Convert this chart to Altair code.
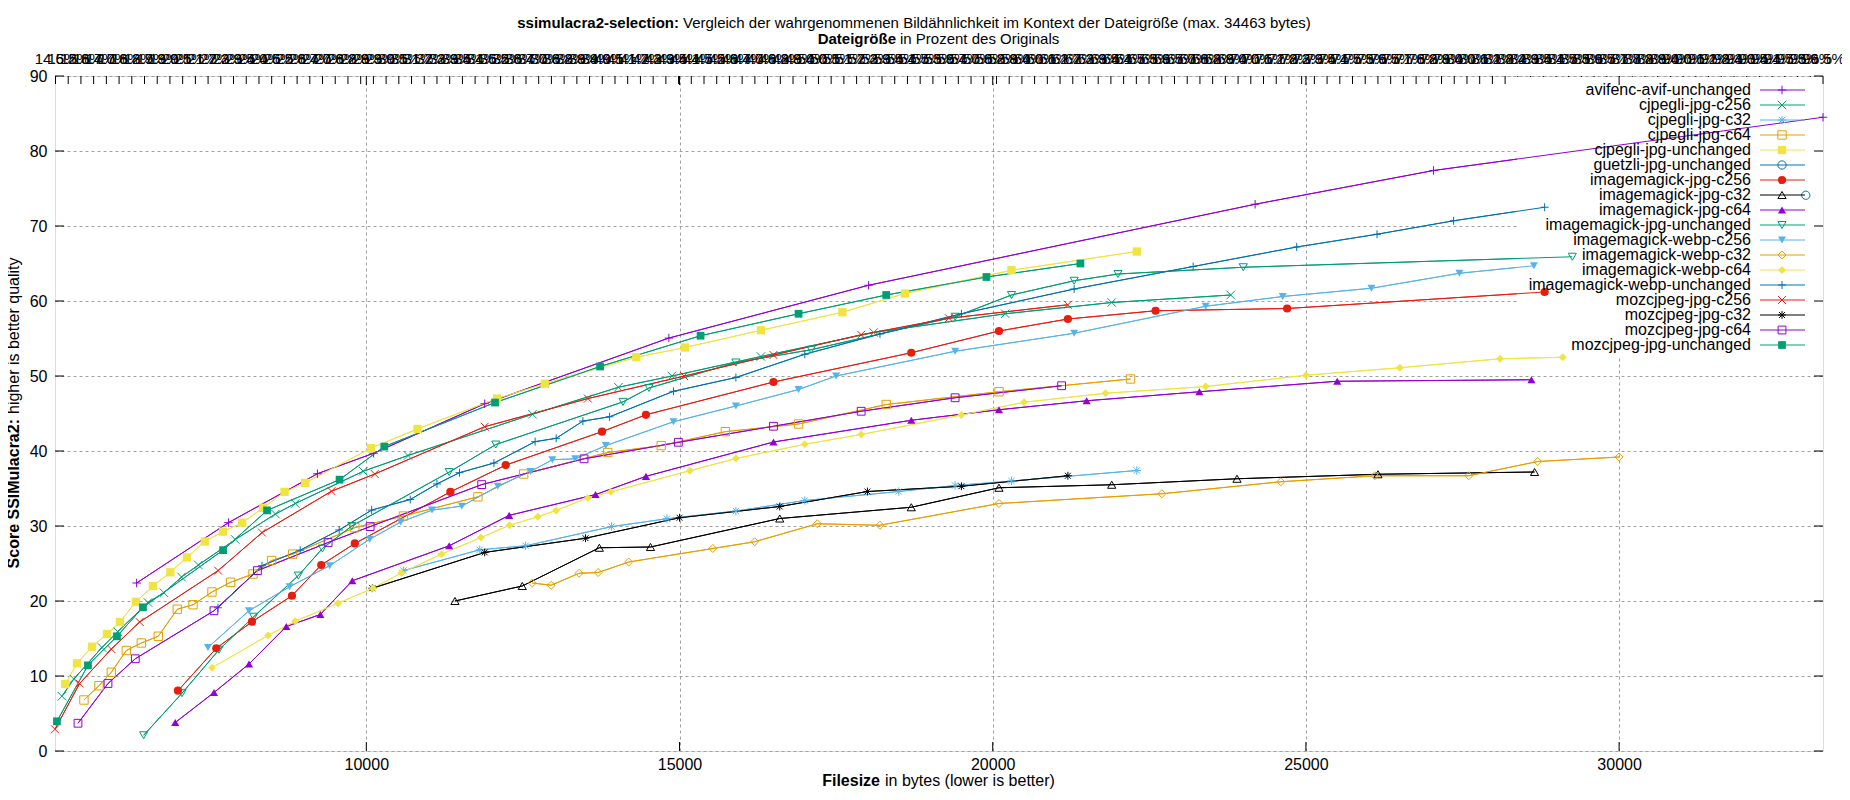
import pandas as pd
import altair as alt

FONT = "Liberation Sans"
W, H = 1768, 675
X_MIN, X_MAX = 5030, 33255
ORIGINAL = 34463

SERIES = [
    "avifenc-avif-unchanged", "cjpegli-jpg-c256", "cjpegli-jpg-c32", "cjpegli-jpg-c64",
    "cjpegli-jpg-unchanged", "guetzli-jpg-unchanged", "imagemagick-jpg-c256",
    "imagemagick-jpg-c32", "imagemagick-jpg-c64", "imagemagick-jpg-unchanged",
    "imagemagick-webp-c256", "imagemagick-webp-c32", "imagemagick-webp-c64",
    "imagemagick-webp-unchanged", "mozcjpeg-jpg-c256", "mozcjpeg-jpg-c32",
    "mozcjpeg-jpg-c64", "mozcjpeg-jpg-unchanged",
]
COLORS = [
    "#9400d3", "#009e73", "#56b4e9", "#e69f00", "#f0e442", "#0072b2", "#e51e10", "#000000",
    "#9400d3", "#009e73", "#56b4e9", "#e69f00", "#f0e442", "#0072b2", "#e51e10", "#000000",
    "#9400d3", "#009e73",
]
PLUS = "M-1,0L1,0M0,-1L0,1"
CROSS = "M-1,-1L1,1M-1,1L1,-1"
STAR = "M-1,0L1,0M0,-1L0,1M-0.75,-0.75L0.75,0.75M-0.75,0.75L0.75,-0.75"
SHAPES = [PLUS, CROSS, STAR, "square", "square", "circle", "circle", "triangle-up",
          "triangle-up", "triangle-down", "triangle-down", "diamond", "diamond", PLUS,
          CROSS, STAR, "square", "square"]
SIZES = [72, 60, 72, 42, 70, 36, 36, 64, 64, 72, 72, 36, 42, 72, 60, 72, 42, 60]
FILLED = ["cjpegli-jpg-unchanged", "imagemagick-jpg-c256", "imagemagick-jpg-c64",
          "imagemagick-webp-c256", "imagemagick-webp-c64", "mozcjpeg-jpg-unchanged"]

# filesize in bytes / score
avif_x = [6333, 7799, 9219, 10116, 11890, 14830, 18019, 24189, 27038, 33255]
avif_y = [22.4, 30.45, 36.97, 39.7, 46.3, 55.06, 62.1, 72.9, 77.4, 84.5]

cj256_x = [5141, 5330, 5780, 6030, 6514, 6769, 7050, 7320, 7908, 8549, 8866, 9951, 10665,
           12653, 14025, 14878, 16300, 18100, 20200, 21900, 23800]
cj256_y = [7.3, 9.6, 13.8, 15.9, 19.8, 21.1, 23.2, 24.8, 28.2, 31.6, 33.0, 37.3, 39.4,
           44.9, 48.5, 50.0, 52.6, 55.8, 58.3, 59.8, 60.8]

cj32_x = [10592, 11811, 12543, 13915, 14799, 15900, 17000, 18500, 19400, 20300, 22300]
cj32_y = [24.05, 26.83, 27.36, 29.92, 30.97, 32.0, 33.4, 34.6, 35.4, 36.0, 37.4]

cj64_x = [5492, 5732, 5929, 6168, 6408, 6679, 6982, 7233, 7536, 7834, 8190, 8488, 8823,
          9817, 10592, 11781, 12512, 13854, 14708, 15732, 16900, 18300, 20100, 22200]
cj64_y = [6.8, 8.7, 10.5, 13.4, 14.4, 15.3, 18.9, 19.5, 21.2, 22.5, 23.6, 25.4, 26.25,
          29.78, 31.33, 33.89, 36.93, 39.8, 40.72, 42.58, 43.6, 46.2, 47.9, 49.6]

cjun_x = [5194, 5381, 5620, 5860, 6067, 6322, 6594, 6872, 7134, 7421, 7713, 8018, 8354,
          8695, 9024, 10073, 10817, 12086, 12848, 14311, 15086, 16300, 17600, 18600,
          20300, 22300]
cjun_y = [8.93, 11.69, 13.9, 15.6, 17.2, 19.9, 22.0, 23.83, 25.81, 27.93, 29.25, 30.44,
          32.43, 34.55, 35.75, 40.38, 42.94, 46.99, 48.97, 52.5, 53.8, 56.1, 58.5, 61.0,
          64.1, 66.6]

guetzli_x = [32980]
guetzli_y = [74.1]

im256_x = [6993, 7605, 8175, 8813, 9280, 9817, 11342, 12226, 13762, 14464, 16500, 18700,
           20100, 21200, 22600, 24700, 28811]
im256_y = [8.04, 13.7, 17.24, 20.7, 24.8, 27.67, 34.55, 38.12, 42.58, 44.83, 49.2, 53.1,
           56.0, 57.6, 58.7, 59.0, 61.2]

im32_x = [11415, 12490, 13720, 14537, 16600, 18700, 20100, 21900, 23900, 26150, 28650]
im32_y = [20.0, 22.0, 27.1, 27.2, 31.0, 32.5, 35.1, 35.5, 36.3, 36.9, 37.2]

im64_x = [6950, 7568, 8127, 8723, 9266, 9776, 11323, 12281, 13659, 14464, 16500, 18700,
          20100, 21500, 23300, 25500, 28600]
im64_y = [3.8, 7.8, 11.6, 16.6, 18.2, 22.7, 27.36, 31.42, 34.19, 36.62, 41.2, 44.1, 45.5,
          46.7, 47.9, 49.3, 49.5]

imun_x = [6445, 7057, 7648, 8201, 8915, 9299, 9768, 11323, 12067, 14098, 14513, 15900,
          17100, 19400, 20300, 21300, 22000, 24000, 29253]
imun_y = [2.1, 7.7, 13.5, 17.9, 23.39, 27.0, 30.0, 37.19, 40.86, 46.55, 48.4, 51.8, 53.5,
          57.9, 60.8, 62.7, 63.6, 64.5, 65.9]

wp256_x = [7472, 8127, 8776, 9415, 10055, 10549, 11049, 11525, 12098, 12622, 12970, 13336,
           13823, 14903, 15900, 16900, 17500, 19400, 21300, 23400, 24630, 26045, 27451,
           28640]
wp256_y = [13.8, 18.7, 21.9, 24.71, 28.24, 30.53, 32.12, 32.65, 35.3, 37.28, 38.83, 38.96,
           40.72, 43.9, 46.0, 48.2, 50.0, 53.3, 55.7, 59.3, 60.6, 61.7, 63.7, 64.7]

wp32_x = [12650, 12950, 13397, 13701, 14189, 15531, 16200, 17200, 18200, 20100, 22700,
          24600, 26100, 27600, 28700, 30000]
wp32_y = [22.4, 22.1, 23.7, 23.8, 25.2, 27.0, 27.9, 30.3, 30.1, 33.0, 34.3, 35.9, 36.7,
          36.7, 38.6, 39.2]

wp64_x = [7536, 8430, 8866, 9548, 10106, 10561, 11201, 11829, 12287, 12738, 13031, 13537,
          13903, 15165, 15900, 17000, 17900, 19500, 20500, 21800, 23400, 25000, 26500,
          28100, 29100]
wp64_y = [11.1, 15.4, 17.3, 19.7, 21.7, 23.74, 26.25, 28.46, 30.09, 31.24, 32.08, 33.75,
          34.55, 37.37, 39.0, 40.9, 42.2, 44.8, 46.5, 47.7, 48.6, 50.1, 51.1, 52.3, 52.5]

wpun_x = [7632, 8335, 8945, 9567, 10085, 10701, 11128, 11488, 12037, 12695, 13031, 13458,
          13884, 14903, 15900, 17000, 18200, 19500, 21300, 23200, 24853, 26135, 27358,
          28811]
wpun_y = [19.1, 24.71, 26.78, 29.47, 32.12, 33.53, 35.61, 37.11, 38.39, 41.25, 41.69,
          43.99, 44.56, 47.96, 49.8, 52.9, 55.6, 58.3, 61.6, 64.6, 67.2, 68.9, 70.7, 72.5]

mz256_x = [5030, 5423, 5929, 6381, 7634, 8335, 9445, 10134, 11890, 13537, 15073, 16500,
           17900, 19300, 21200]
mz256_y = [2.9, 9.0, 13.6, 17.2, 24.05, 29.12, 34.64, 36.93, 43.24, 46.99, 49.99, 52.8,
           55.5, 57.7, 59.5]

mz32_x = [10096, 11890, 13500, 15000, 16600, 18000, 19500, 21200]
mz32_y = [21.7, 26.48, 28.37, 31.1, 32.6, 34.6, 35.3, 36.7]

mz64_x = [5397, 5876, 6312, 7568, 8262, 9390, 10061, 11842, 13476, 14982, 16500, 17900,
          19400, 21100]
mz64_y = [3.7, 9.0, 12.3, 18.7, 24.05, 27.8, 29.92, 35.52, 38.96, 41.16, 43.3, 45.3,
          47.1, 48.7]

mzun_x = [5061, 5556, 6019, 6434, 7713, 8415, 9573, 10287, 12055, 13732, 15336, 16900,
          18300, 19900, 21400]
mzun_y = [3.96, 11.42, 15.29, 19.16, 26.78, 32.08, 36.18, 40.59, 46.46, 51.27, 55.37,
          58.3, 60.8, 63.2, 65.0]

XS = [avif_x, cj256_x, cj32_x, cj64_x, cjun_x, guetzli_x, im256_x, im32_x, im64_x, imun_x,
      wp256_x, wp32_x, wp64_x, wpun_x, mz256_x, mz32_x, mz64_x, mzun_x]
YS = [avif_y, cj256_y, cj32_y, cj64_y, cjun_y, guetzli_y, im256_y, im32_y, im64_y, imun_y,
      wp256_y, wp32_y, wp64_y, wpun_y, mz256_y, mz32_y, mz64_y, mzun_y]

X_TICKS = [5000, 10000, 15000, 20000, 25000, 30000]
Y_TICKS = [0, 10, 20, 30, 40, 50, 60, 70, 80, 90]
TOP_TICKS = list(range(5038, 33256, 203))

df = pd.concat(
    [pd.DataFrame({"series": s, "size": x, "score": y}) for s, x, y in zip(SERIES, XS, YS)],
    ignore_index=True,
)
legend_df = pd.DataFrame({"series": SERIES, "idx": list(range(len(SERIES)))})

xs = alt.Scale(domain=[X_MIN, X_MAX], nice=False, zero=False)
ys = alt.Scale(domain=[0, 90], nice=False, zero=False)
color = alt.Color("series:N", scale=alt.Scale(domain=SERIES, range=COLORS), legend=None)
shape = alt.Shape("series:N", scale=alt.Scale(domain=SERIES, range=SHAPES), legend=None)
size = alt.Size("series:N", scale=alt.Scale(domain=SERIES, range=SIZES), legend=None)
grid = dict(grid=True, gridColor="#a0a0a0", gridDash=[3, 3], gridWidth=1, ticks=False,
            tickSize=0, domain=False, labelFont=FONT, labelFontSize=16, labelColor="black",
            title=None, format="d")

lines = alt.Chart(df).mark_line(strokeWidth=1, clip=True).encode(
    x=alt.X("size:Q", scale=xs, axis=alt.Axis(values=X_TICKS, labelPadding=5,
            labelFlush=False, labelExpr="datum.value < 10000 ? '' : datum.label", **grid)),
    y=alt.Y("score:Q", scale=ys, axis=alt.Axis(values=Y_TICKS, labelPadding=8, **grid)),
    color=color,
)

def points(filled):
    sel = FILLED if filled else [s for s in SERIES if s not in FILLED]
    return alt.Chart(df).transform_filter(
        alt.FieldOneOfPredicate(field="series", oneOf=sel)
    ).mark_point(filled=filled, opacity=1, strokeWidth=1).encode(
        x=alt.X("size:Q", scale=xs, axis=None),
        y=alt.Y("score:Q", scale=ys, axis=None),
        color=color, shape=shape, size=size,
    )

# inward tick marks like gnuplot
ytick_df = pd.DataFrame({"v": Y_TICKS})
xtick_df = pd.DataFrame({"v": X_TICKS[1:]})
left_ticks = alt.Chart(ytick_df).mark_rule(color="black").encode(
    y=alt.Y("v:Q", scale=ys, axis=None), x=alt.value(0), x2=alt.value(9))
right_ticks = alt.Chart(ytick_df).mark_rule(color="black").encode(
    y=alt.Y("v:Q", scale=ys, axis=None), x=alt.value(W - 9), x2=alt.value(W))
bottom_ticks = alt.Chart(xtick_df).mark_rule(color="black").encode(
    x=alt.X("v:Q", scale=xs, axis=None), y=alt.value(H - 9), y2=alt.value(H))
topmajor_ticks = alt.Chart(xtick_df).mark_rule(color="black").encode(
    x=alt.X("v:Q", scale=xs, axis=None), y=alt.value(0), y2=alt.value(9))
top_ticks = alt.Chart(pd.DataFrame({"t": TOP_TICKS})).mark_rule(color="black").encode(
    x=alt.X("t:Q", scale=xs, axis=alt.Axis(
        orient="top", values=TOP_TICKS, labelOverlap=False, labelFlush=False,
        labelPadding=10, ticks=False, tickSize=0, domain=False, grid=False, title=None,
        labelFont=FONT, labelFontSize=15, labelColor="black",
        labelExpr=f"format(datum.value / {ORIGINAL} * 100, '.1f') + '%'")),
    y=alt.value(0), y2=alt.value(8),
)

# legend box (hides the grid behind the key)
key_bg = alt.Chart(alt.Data(values=[{}])).mark_rect(color="white").encode(
    x=alt.value(1462), x2=alt.value(W - 1), y=alt.value(1), y2=alt.value(280))
ky = alt.Y("idx:Q", scale=alt.Scale(domain=[0, len(SERIES) - 1], range=[14, 269]), axis=None)
key_text = alt.Chart(legend_df).mark_text(
    align="right", baseline="middle", font=FONT, fontSize=16, color="black"
).encode(x=alt.value(1696), y=ky, text="series:N")
key_line = alt.Chart(legend_df).mark_rule(strokeWidth=1).encode(
    x=alt.value(1705), x2=alt.value(1750), y=ky, color=color)

def key_points(filled):
    sel = FILLED if filled else [s for s in SERIES if s not in FILLED]
    return alt.Chart(legend_df).transform_filter(
        alt.FieldOneOfPredicate(field="series", oneOf=sel)
    ).mark_point(filled=filled, opacity=1, strokeWidth=1).encode(
        x=alt.value(1727), y=ky, color=color, shape=shape, size=size)

def label(text, x, y, bold=False, align="center", angle=0, fs=16):
    return alt.Chart(alt.Data(values=[{}])).mark_text(
        text=text, font=FONT, fontSize=fs, fontWeight="bold" if bold else "normal",
        align=align, baseline="middle", angle=angle, color="black",
    ).encode(x=alt.value(x), y=alt.value(y))

texts = [
    label("ssimulacra2-selection:", 624, -53, bold=True, align="right", fs=15),
    label("Vergleich der wahrgenommenen Bildähnlichkeit im Kontext der Dateigröße "
          "(max. 34463 bytes)", 628, -53, align="left", fs=15),
    label("Dateigröße", 841, -37, bold=True, align="right", fs=15),
    label("in Prozent des Originals", 845, -37, align="left", fs=15),
    label("Filesize", 825, 705, bold=True, align="right"),
    label("in bytes (lower is better)", 830, 705, align="left"),
    label("Score SSIMulacra2:", -41, 343, bold=True, align="right", angle=270),
    label("higher is better quality", -41, 338, align="left", angle=270),
]

chart = alt.layer(
    lines, top_ticks, key_bg, left_ticks, right_ticks, bottom_ticks, topmajor_ticks,
    alt.Chart(df).mark_line(strokeWidth=1, clip=True).encode(
        x=alt.X("size:Q", scale=xs, axis=None), y=alt.Y("score:Q", scale=ys, axis=None),
        color=color),
    points(False), points(True), key_text, key_line, key_points(False), key_points(True),
    *texts,
).resolve_scale(y="independent").resolve_axis(x="independent").properties(
    width=W, height=H,
    autosize=alt.AutoSizeParams(type="none"),
    padding={"left": 47, "top": 68, "right": 19, "bottom": 41},
).configure_view(stroke="black", strokeWidth=1).configure(background="white")

chart.save("out.html", embed_options={"renderer": "svg", "actions": False})
